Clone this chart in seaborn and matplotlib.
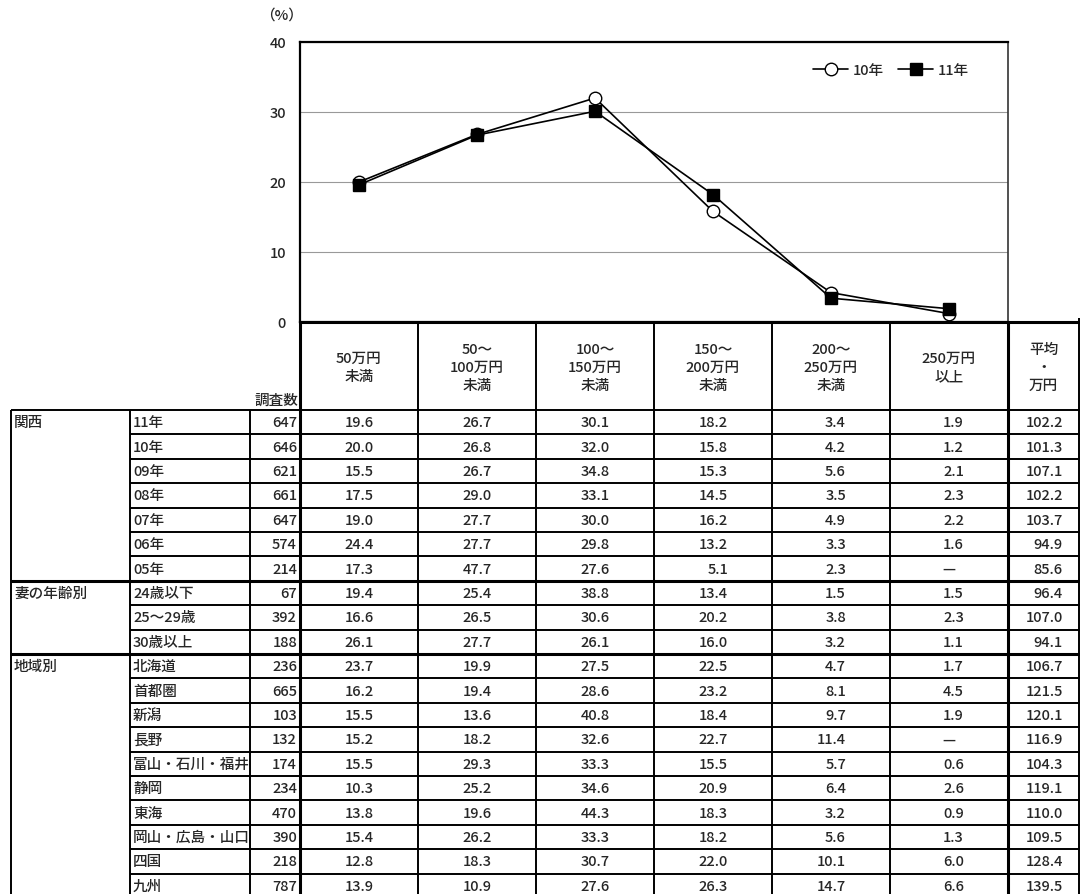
import numpy as np
import pandas as pd
import matplotlib
matplotlib.use("Agg")
import matplotlib.pyplot as plt
import seaborn as sns

sns.set_style("white")
plt.rcParams['font.family'] = ['Noto Sans CJK JP', 'DejaVu Sans']
plt.rcParams['font.weight'] = 'medium'

# income bands (chart x categories / table header)
bands = ['50万円\n未満', '50～\n100万円\n未満', '100～\n150万円\n未満',
         '150～\n200万円\n未満', '200～\n250万円\n未満', '250万円\n以上']
avg_header = '平均\n・\n万円'

# table rows
groups = ['関西', '妻の年齢別', '地域別']
group_sizes = [7, 3, 10]
row_labels = ['11年', '10年', '09年', '08年', '07年', '06年', '05年',
              '24歳以下', '25～29歳', '30歳以上',
              '北海道', '首都圏', '新潟', '長野', '富山・石川・福井', '静岡',
              '東海', '岡山・広島・山口', '四国', '九州']
counts = [647, 646, 621, 661, 647, 574, 214, 67, 392, 188,
          236, 665, 103, 132, 174, 234, 470, 390, 218, 787]

b1 = [19.6, 20.0, 15.5, 17.5, 19.0, 24.4, 17.3, 19.4, 16.6, 26.1,
      23.7, 16.2, 15.5, 15.2, 15.5, 10.3, 13.8, 15.4, 12.8, 13.9]
b2 = [26.7, 26.8, 26.7, 29.0, 27.7, 27.7, 47.7, 25.4, 26.5, 27.7,
      19.9, 19.4, 13.6, 18.2, 29.3, 25.2, 19.6, 26.2, 18.3, 10.9]
b3 = [30.1, 32.0, 34.8, 33.1, 30.0, 29.8, 27.6, 38.8, 30.6, 26.1,
      27.5, 28.6, 40.8, 32.6, 33.3, 34.6, 44.3, 33.3, 30.7, 27.6]
b4 = [18.2, 15.8, 15.3, 14.5, 16.2, 13.2, 5.1, 13.4, 20.2, 16.0,
      22.5, 23.2, 18.4, 22.7, 15.5, 20.9, 18.3, 18.2, 22.0, 26.3]
b5 = [3.4, 4.2, 5.6, 3.5, 4.9, 3.3, 2.3, 1.5, 3.8, 3.2,
      4.7, 8.1, 9.7, 11.4, 5.7, 6.4, 3.2, 5.6, 10.1, 14.7]
b6 = [1.9, 1.2, 2.1, 2.3, 2.2, 1.6, None, 1.5, 2.3, 1.1,
      1.7, 4.5, 1.9, None, 0.6, 2.6, 0.9, 1.3, 6.0, 6.6]
avg = [102.2, 101.3, 107.1, 102.2, 103.7, 94.9, 85.6, 96.4, 107.0, 94.1,
       106.7, 121.5, 120.1, 116.9, 104.3, 119.1, 110.0, 109.5, 128.4, 139.5]
band_cols = [b1, b2, b3, b4, b5, b6]

# chart series = 関西 10年 / 11年 rows
share_10 = [c[1] for c in band_cols]
share_11 = [c[0] for c in band_cols]

# ---- layout (pixels) ----
W, H = 1080, 895
col_edges = [11, 130, 250, 300, 418, 536, 654, 772, 890, 1008, 1079]
chart_top, chart_bot = 43, 323
row_top, row_h = 411, 24.4
fs = 10.5

fig = plt.figure(figsize=(W / 100, H / 100), dpi=100)

# full-figure axes in pixel coords for the table
tab = fig.add_axes([0, 0, 1, 1])
tab.set_xlim(0, W)
tab.set_ylim(H, 0)
tab.axis('off')

# chart axes
ax = fig.add_axes([col_edges[3] / W, 1 - chart_bot / H,
                   (col_edges[9] - col_edges[3]) / W, (chart_bot - chart_top) / H])

x = np.arange(len(bands))
df = pd.DataFrame({'x': np.concatenate([x, x]),
                   'share': share_10 + share_11,
                   'year': ['10年'] * len(x) + ['11年'] * len(x)})

sns.lineplot(data=df[df.year == '10年'], x='x', y='share', ax=ax, color='black',
             lw=1.2, marker='o', markersize=9, markerfacecolor='white',
             markeredgecolor='black', markeredgewidth=1.0, label='10年', zorder=3)
sns.lineplot(data=df[df.year == '11年'], x='x', y='share', ax=ax, color='black',
             lw=1.2, marker='s', markersize=8, markerfacecolor='black',
             markeredgecolor='black', markeredgewidth=1.0, label='11年', zorder=4)

ax.set_xlim(-0.5, len(bands) - 0.5)
ax.set_ylim(0, 40)
ax.set_yticks([0, 10, 20, 30, 40])
ax.set_xticks([])
ax.set_xlabel('')
ax.set_ylabel('')
ax.tick_params(axis='y', length=0, pad=10, labelsize=fs)
ax.yaxis.grid(True, color='#999999', lw=0.8)
ax.set_axisbelow(True)
for s in ['left', 'top', 'bottom']:
    ax.spines[s].set_color('black')
    ax.spines[s].set_linewidth(1.6)
ax.spines['right'].set_color('#333333')
ax.spines['right'].set_linewidth(1.2)

ax.legend(loc='upper right', bbox_to_anchor=(0.955, 0.95), ncol=2, frameon=False,
          fontsize=fs, handlelength=2.4, handletextpad=0.3, columnspacing=1.0,
          borderpad=0)

tab.text(260, 16, '（%）', fontsize=fs, ha='left', va='center')

# ---- table lines ----
lw_n, lw_b = 1.4, 2.2
n_rows = len(row_labels)
row_y = [row_top + i * row_h for i in range(n_rows + 1)]
group_starts = np.cumsum([0] + group_sizes)[:-1]
group_bounds = set(np.cumsum([0] + group_sizes))

tab.hlines(chart_bot, col_edges[3], W, color='black', lw=lw_b)
for i, y in enumerate(row_y):
    if i in group_bounds:
        tab.hlines(y, col_edges[0], W, color='black', lw=lw_b if i > 0 else lw_n)
    else:
        tab.hlines(y, col_edges[1], W, color='black', lw=lw_n)

for j, xe in enumerate(col_edges):
    if j < 3:
        y0 = row_top
    elif j in (3, 9):
        y0 = chart_bot
    else:
        y0 = chart_bot - 4
    tab.vlines(xe, y0, H, color='black', lw=lw_b if j in (3, 9) else lw_n)

# ---- header text ----
centers = [(col_edges[k] + col_edges[k + 1]) / 2 for k in range(3, 10)]
head_y = 368
for k, lab in enumerate(bands + [avg_header]):
    tab.text(centers[k], head_y, lab, ha='center', va='center', fontsize=fs,
             linespacing=1.35)
tab.text(col_edges[3] - 2, row_top - 3, '調査数', ha='right', va='bottom', fontsize=fs)

# ---- body text ----
for g, start in zip(groups, group_starts):
    tab.text(col_edges[0] + 3, row_top + (start + 0.5) * row_h, g,
             ha='left', va='center', fontsize=fs)
for i in range(n_rows):
    yc = row_top + (i + 0.5) * row_h
    tab.text(col_edges[1] + 3, yc, row_labels[i], ha='left', va='center', fontsize=fs)
    tab.text(col_edges[3] - 3, yc, f'{counts[i]}', ha='right', va='center', fontsize=fs)
    for k, col in enumerate(band_cols):
        v = col[i]
        if v is None:
            tab.text(centers[k], yc, '—', ha='center', va='center', fontsize=fs)
        else:
            tab.text(centers[k] + 15, yc, f'{v:.1f}', ha='right', va='center', fontsize=fs)
    tab.text(col_edges[10] - 16, yc, f'{avg[i]:.1f}', ha='right', va='center', fontsize=fs)

fig.savefig('out.png', dpi=100)
